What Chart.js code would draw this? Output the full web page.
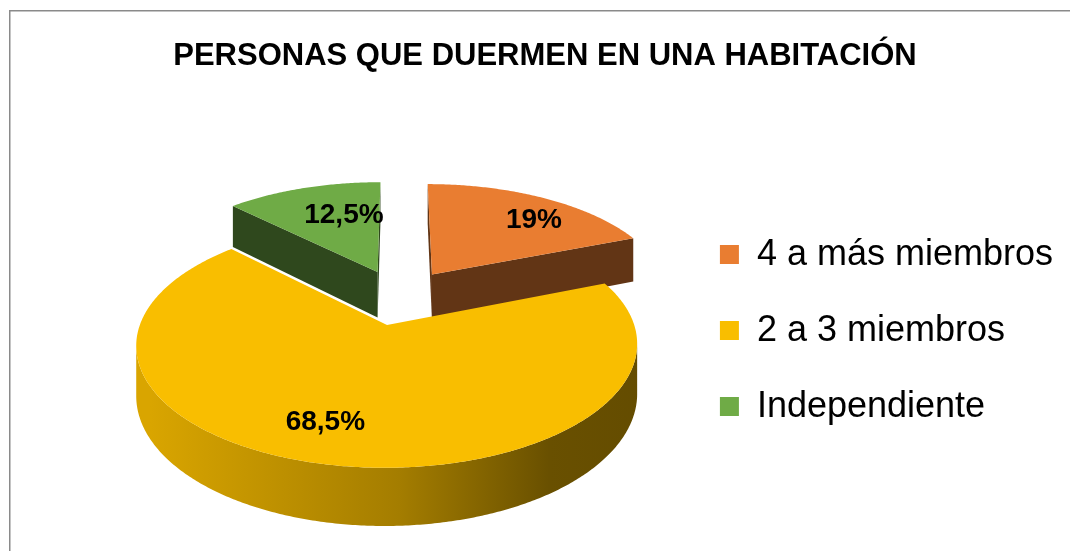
<!DOCTYPE html>
<html>
<head>
<meta charset="utf-8">
<script src="https://cdn.jsdelivr.net/npm/chart.js@4.4.0/dist/chart.umd.min.js"></script>
<style>
  html, body { margin: 0; padding: 0; background: #fff; }
  #wrap { width: 1070px; height: 551px; }
</style>
</head>
<body>
<div id="wrap"><canvas id="pie-chart"></canvas></div>
<script>
// Define the data
var labels = ["4 a más miembros", "2 a 3 miembros", "Independiente"];
var values = [19, 68.5, 12.5];
var valueLabels = ["19%", "68,5%", "12,5%"];
var colors = ["#E97D31", "#F9BE00", "#6FAB46"];
// End Defining data

var FONT = "'Liberation Sans', Arial, sans-serif";

// darken a hex colour by factor f
function shade(hex, f) {
  var n = parseInt(hex.slice(1), 16);
  var r = Math.round(((n >> 16) & 255) * f);
  var g = Math.round(((n >> 8) & 255) * f);
  var b = Math.round((n & 255) * f);
  return "rgb(" + r + "," + g + "," + b + ")";
}

// grey frame round the chart (only left and top edges are inside the picture)
var frame = {
  id: "frame",
  beforeDraw: function (chart) {
    var ctx = chart.ctx;
    ctx.save();
    ctx.strokeStyle = "#8a8a8a";
    ctx.lineWidth = 1.5;
    ctx.strokeRect(9.75, 10.75, chart.width + 20, chart.height + 20);
    ctx.restore();
  }
};

// draws the pie slices as an exploded, tilted 3D pie with a bit of perspective
var pie3d = {
  id: "pie3d",
  beforeDatasetsDraw: function (chart, args, opts) {
    var ctx = chart.ctx;
    var arcs = chart.getDatasetMeta(0).data;
    var R = arcs[0].outerRadius;
    var ex = arcs[0].x + opts.shiftX, ey = arcs[0].y + opts.shiftY;
    var rx = R * opts.scaleX, ry = R * opts.scaleY, depth = R * opts.depth;
    var p = opts.perspective, k = opts.explode;
    var camV = 1 / p;

    function proj(u, v, down) {
      var s = 1 / (1 - p * v);
      return { x: ex + rx * u * s, y: ey + ry * v * s + (down ? depth * s : 0) };
    }

    var slices = arcs.map(function (arc, i) {
      var mid = (arc.startAngle + arc.endAngle) / 2;
      return { i: i, a0: arc.startAngle, a1: arc.endAngle,
               cu: Math.cos(mid) * k, cv: Math.sin(mid) * k, color: colors[i] };
    });
    // far slices first
    slices.sort(function (a, b) { return a.cv - b.cv; });

    function edge(sl, a, down) {
      return proj(sl.cu + Math.cos(a), sl.cv + Math.sin(a), down);
    }

    function poly(pts, fill) {
      ctx.beginPath();
      ctx.moveTo(pts[0].x, pts[0].y);
      for (var j = 1; j < pts.length; j++) ctx.lineTo(pts[j].x, pts[j].y);
      ctx.closePath();
      ctx.fillStyle = fill;
      ctx.fill();
    }

    function cutFace(sl, a, nx, ny) {
      var mx = sl.cu + 0.5 * Math.cos(a), my = sl.cv + 0.5 * Math.sin(a);
      if (nx * (0 - mx) + ny * (camV - my) <= 0) return;
      poly([proj(sl.cu, sl.cv, false), edge(sl, a, false), edge(sl, a, true), proj(sl.cu, sl.cv, true)],
           shade(sl.color, 0.42));
    }

    ctx.save();
    slices.forEach(function (sl) {
      // radial cut faces
      cutFace(sl, sl.a0, Math.sin(sl.a0), -Math.cos(sl.a0));
      cutFace(sl, sl.a1, -Math.sin(sl.a1), Math.cos(sl.a1));

      // outer wall, only the parts facing the viewer
      var grad = ctx.createLinearGradient(ex - rx * 1.05, 0, ex + rx * 1.05, 0);
      grad.addColorStop(0, shade(sl.color, 0.87));
      grad.addColorStop(0.5, shade(sl.color, 0.66));
      grad.addColorStop(0.8, shade(sl.color, 0.42));
      grad.addColorStop(1, shade(sl.color, 0.40));
      var n = Math.max(2, Math.ceil((sl.a1 - sl.a0) / 0.01));
      var run = [];
      function flush() {
        if (run.length > 1) {
          var top = run.map(function (a) { return edge(sl, a, false); });
          var bot = run.slice().reverse().map(function (a) { return edge(sl, a, true); });
          poly(top.concat(bot), grad);
        }
        run = [];
      }
      for (var j = 0; j <= n; j++) {
        var a = sl.a0 + (sl.a1 - sl.a0) * j / n;
        var c = Math.cos(a), s = Math.sin(a);
        var vis = c * (0 - (sl.cu + c)) + s * (camV - (sl.cv + s)) > 0;
        if (vis) run.push(a); else flush();
      }
      flush();

      // top face
      var pts = [proj(sl.cu, sl.cv, false)];
      for (var m = 0; m <= n; m++) pts.push(edge(sl, sl.a0 + (sl.a1 - sl.a0) * m / n, false));
      poly(pts, sl.color);
    });

    // value labels
    ctx.fillStyle = "#000";
    ctx.font = "bold 28px " + FONT;
    ctx.textAlign = "center";
    ctx.textBaseline = "middle";
    slices.forEach(function (sl) {
      var at = opts.labelAt[sl.i];
      var a = sl.a0 + (sl.a1 - sl.a0) * at[1];
      var q = proj(sl.cu + at[0] * Math.cos(a), sl.cv + at[0] * Math.sin(a), false);
      ctx.fillText(valueLabels[sl.i], q.x, q.y);
    });
    ctx.restore();
    return false; // skip the flat pie
  }
};

var ctx = document.getElementById("pie-chart").getContext("2d");
var myChart = new Chart(ctx, {
  type: "pie",
  data: {
    labels: labels,
    datasets: [
      {
        data: values,
        backgroundColor: colors,
        borderWidth: 0,
        offset: 0,
        hoverOffset: 0
      }
    ]
  },
  plugins: [frame, pie3d],
  options: {
    responsive: true,
    maintainAspectRatio: false,
    animation: false,
    events: [],
    layout: { padding: { left: 27, right: 7, top: 0, bottom: 0 } },
    plugins: {
      title: {
        display: true,
        text: "PERSONAS QUE DUERMEN EN UNA HABITACIÓN",
        color: "#000",
        font: { family: FONT, size: 31, weight: "bold" },
        padding: { top: 38, bottom: 35 }
      },
      legend: {
        position: "right",
        fullSize: false,
        labels: {
          color: "#000",
          font: { family: FONT, size: 36 },
          boxWidth: 19,
          boxHeight: 19,
          padding: 40
        }
      },
      tooltip: { enabled: false },
      pie3d: {
        shiftX: 46.1,
        shiftY: -33.8,
        scaleX: 1.079,
        scaleY: 0.503,
        depth: 0.213,
        perspective: 0.155,
        explode: 0.25,
        labelAt: [[0.75, 0.6], [0.75, 0.52], [0.62, 0.65]]
      }
    }
  }
});
</script>
</body>
</html>
